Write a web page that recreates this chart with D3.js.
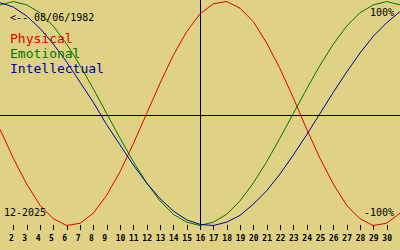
<!DOCTYPE html>
<html>
<head>
<meta charset="utf-8">
<script src="https://cdn.jsdelivr.net/npm/d3@7"></script>
<style>
  body { margin: 0; background: #e0d284; }
  svg { display: block; }
  text { font-family: "DejaVu Sans Mono", monospace; }
</style>
</head>
<body>
<div id="scene"></div>
<script>
// days of the month shown on the x axis (1..31, December 2025)
const days = d3.range(1, 32);
const tickDays = d3.range(2, 31);
const todayMark = 16;

// biorhythm values, one per day
const physical = [-0.14, -0.40, -0.63, -0.82, -0.94, -1.00, -0.98, -0.89, -0.73, -0.52,
  -0.27, 0.00, 0.27, 0.52, 0.73, 0.89, 0.98, 1.00, 0.94, 0.82,
  0.63, 0.40, 0.14, -0.14, -0.40, -0.63, -0.82, -0.94, -1.00, -0.98, -0.89];
const emotional = [0.97, 1.00, 0.97, 0.90, 0.78, 0.62, 0.43, 0.22, 0.00, -0.22,
  -0.43, -0.62, -0.78, -0.90, -0.97, -1.00, -0.97, -0.90, -0.78, -0.62,
  -0.43, -0.22, 0.00, 0.22, 0.43, 0.62, 0.78, 0.90, 0.97, 1.00, 0.97];
const intellectual = [0.99, 0.95, 0.87, 0.76, 0.62, 0.46, 0.28, 0.10, -0.10, -0.28,
  -0.46, -0.62, -0.76, -0.87, -0.95, -0.99, -1.00, -0.97, -0.91, -0.81,
  -0.69, -0.54, -0.37, -0.19, 0.00, 0.19, 0.37, 0.54, 0.69, 0.81, 0.91];

const seriesNames = ["Physical", "Emotional", "Intellectual"];
const seriesColors = ["#e00000", "#007800", "#0000a0"];
const seriesValues = [physical, emotional, intellectual];

const birthLabel = "<-- 08/06/1982";
const monthLabel = "12-2025";
const topLabel = "100%";
const bottomLabel = "-100%";

const width = 400, height = 250;

const svg = d3.select("#scene").append("svg")
  .attr("width", width)
  .attr("height", height);

svg.append("rect")
  .attr("width", width)
  .attr("height", height)
  .attr("fill", "#e0d284");

const x = d3.scaleLinear().domain([1, 31]).range([0, 400]);
const y = d3.scaleLinear().domain([-1, 1]).range([225.5, 1.5]);

// zero line and today marker
svg.append("line")
  .attr("x1", 0).attr("x2", width)
  .attr("y1", Math.round(y(0)) + 1.5).attr("y2", Math.round(y(0)) + 1.5)
  .attr("stroke", "#000")
  .attr("shape-rendering", "crispEdges");

svg.append("line")
  .attr("x1", x(todayMark) + 0.5).attr("x2", x(todayMark) + 0.5)
  .attr("y1", 0).attr("y2", 225)
  .attr("stroke", "#000")
  .attr("shape-rendering", "crispEdges");

// day axis
const axis = svg.append("g")
  .attr("transform", "translate(0,225)")
  .call(d3.axisBottom(x)
    .tickValues(tickDays)
    .tickSize(5)
    .tickPadding(5)
    .tickFormat(d => d < 10 ? d + "\u00a0" : String(d)));

axis.select(".domain").remove();
axis.selectAll("line").attr("stroke", "#000").attr("shape-rendering", "crispEdges");
axis.selectAll("text")
  .attr("fill", "#000")
  .style("font-family", "'DejaVu Sans Mono', monospace")
  .style("font-size", "8px")
  .style("font-weight", "bold");

const line = d3.line()
  .x((d, i) => x(days[i]))
  .y(d => y(d));

seriesValues.forEach((vals, i) => {
  svg.append("path")
    .datum(vals)
    .attr("d", line)
    .attr("fill", "none")
    .attr("stroke", seriesColors[i])
    .attr("stroke-width", 1);
});

// labels
svg.append("text")
  .attr("x", 10).attr("y", 20.5)
  .style("font-size", "10px")
  .attr("fill", "#000")
  .text(birthLabel);

seriesNames.forEach((name, i) => {
  svg.append("text")
    .attr("x", 10)
    .attr("y", 42.5 + i * 15)
    .style("font-size", "13px")
    .attr("fill", seriesColors[i])
    .text(name);
});

svg.append("text")
  .attr("x", 394).attr("y", 15.5)
  .attr("text-anchor", "end")
  .style("font-size", "10px")
  .text(topLabel);

svg.append("text")
  .attr("x", 394).attr("y", 215.5)
  .attr("text-anchor", "end")
  .style("font-size", "10px")
  .text(bottomLabel);

svg.append("text")
  .attr("x", 4).attr("y", 215.5)
  .style("font-size", "10px")
  .text(monthLabel);
</script>
</body>
</html>
